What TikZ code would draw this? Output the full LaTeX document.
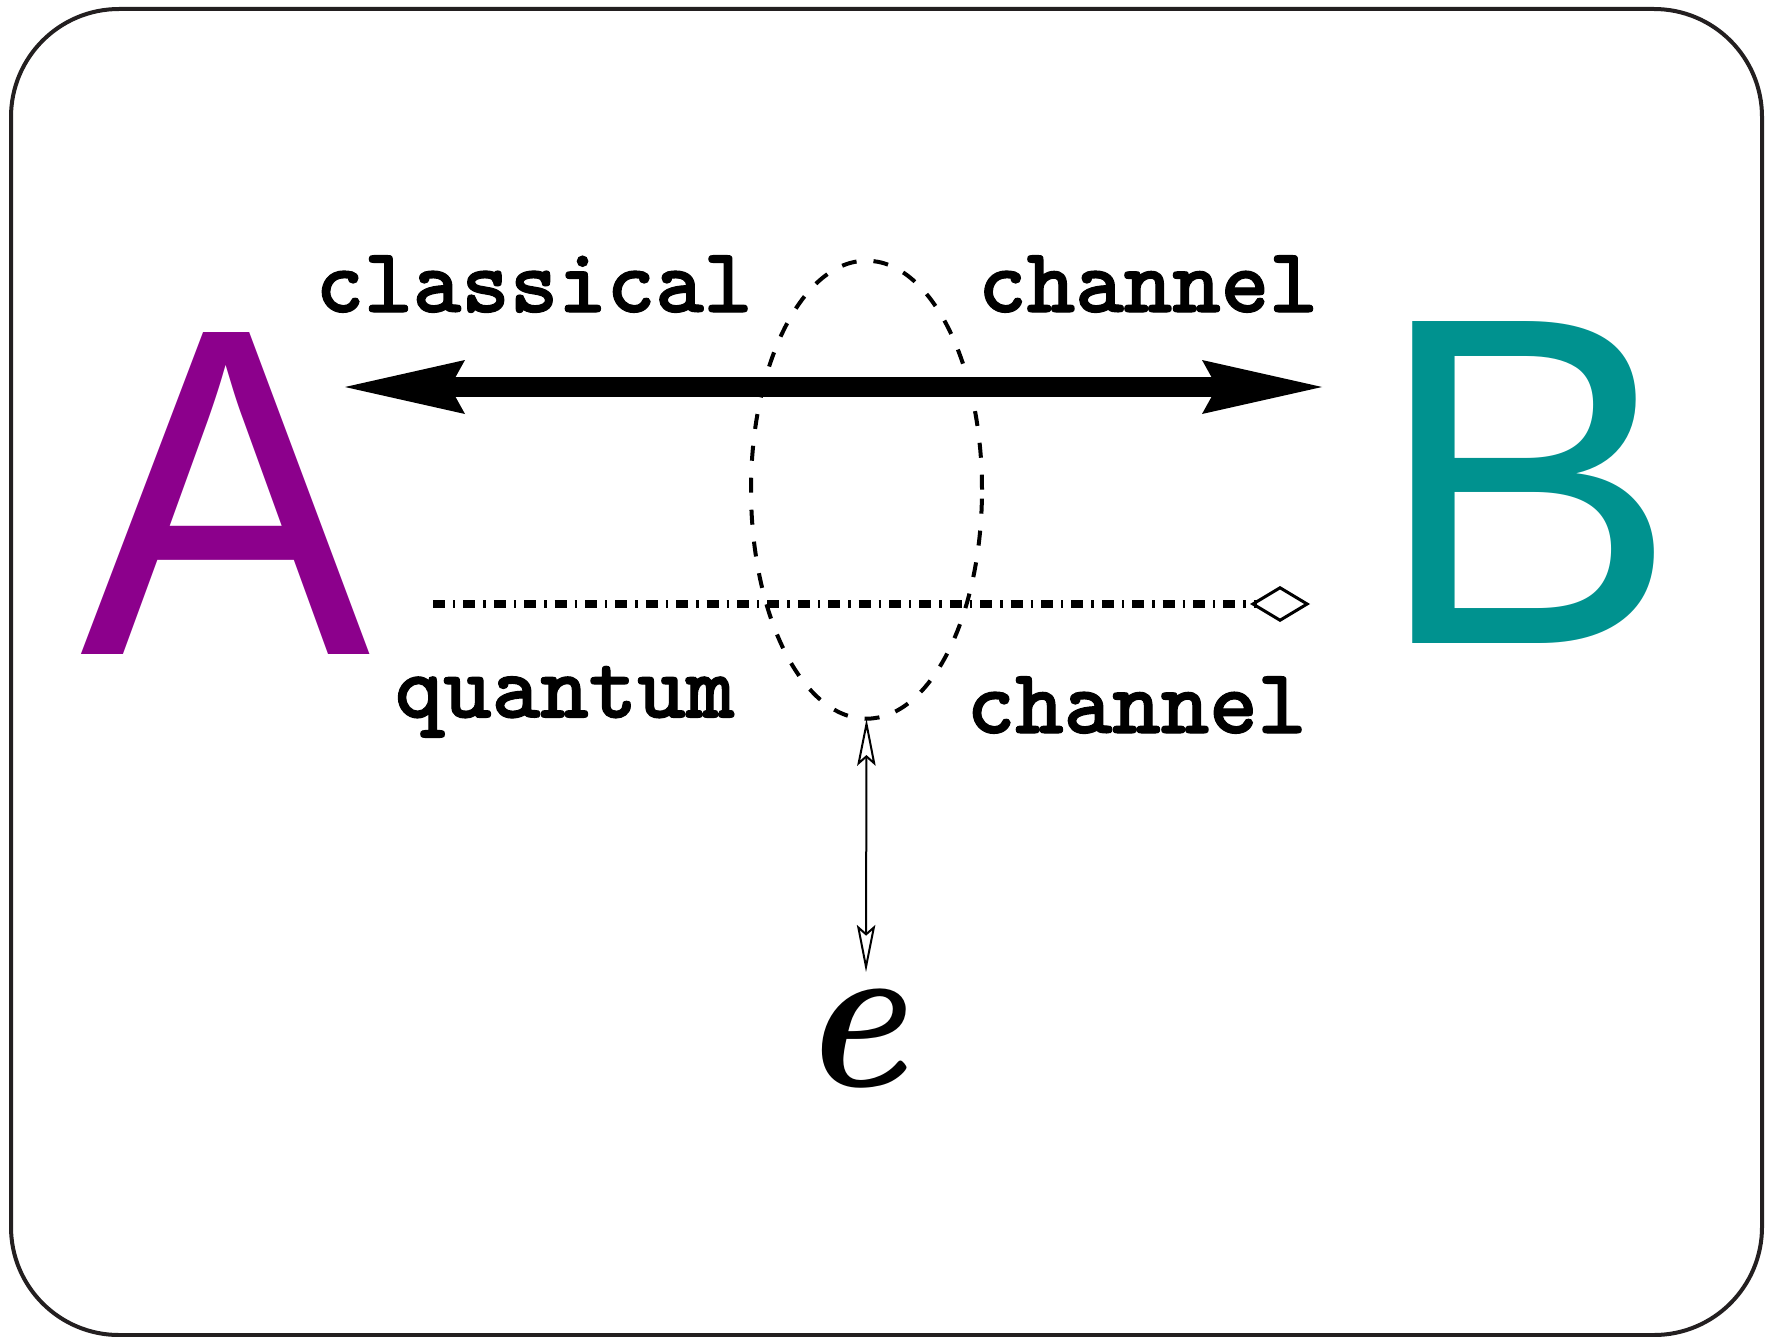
\documentclass[tikz,border=0pt]{standalone}
\usepackage{fontspec}
\usetikzlibrary{arrows.meta,shapes.geometric}
\newfontfamily\sansA{Liberation Sans}
\newfontfamily\courb{lmmonolt10-bold.otf}[FakeBold=1.2]
\definecolor{framecol}{HTML}{231F20}
\definecolor{apurple}{RGB}{140,0,140}
\definecolor{bteal}{RGB}{0,146,143}
\begin{document}
\begin{tikzpicture}[x=0.25pt,y=-0.25pt,
  bigletter/.style={inner sep=0pt,outer sep=0pt,anchor=base,font=\sansA\fontsize{117}{117}\selectfont},
  chanlabel/.style={inner sep=0pt,outer sep=0pt,anchor=base,font=\courb\fontsize{23.1}{23.1}\selectfont},
  classarrow/.style={line width=5pt,{Stealth[length=30pt,width=13.5pt,inset=3.75pt,line width=0pt]}-{Stealth[length=30pt,width=13.5pt,inset=3.75pt,line width=0pt]}},
  quantline/.style={line width=1.8pt,dash pattern=on 3pt off 2pt on 0.6pt off 2pt,-{Diamond[open,length=15pt,width=9pt,line width=0.75pt]}},
  eavesarrow/.style={line width=0.5pt,{Stealth[open,length=11.75pt,width=4.6pt,inset=2pt]}-{Stealth[open,length=11.75pt,width=4.6pt,inset=2pt]}},
  eveset/.style={draw,line width=1pt,dash pattern=on 3.75pt off 4.25pt,ellipse,minimum width=57.75pt,minimum height=114.5pt,inner sep=0pt,outer sep=0pt}
]
\useasboundingbox (0,0) rectangle (1766,1337);
% frame
\draw[framecol,line width=1pt,rounded corners=27pt] (11,9) rectangle (1762,1335);
% letters
\node[bigletter,text=apurple] (A) at (225.5,654) {\scalebox{0.93}[1]{A}};
\node[bigletter,text=bteal] (B) at (1527,643) {\scalebox{0.97}[1]{B}};
% labels
\node[chanlabel] (lcl) at (534,312) {classical};
\node[chanlabel] (lch1) at (1148,312) {channel};
\node[chanlabel] (lqu) at (564.5,717.5) {quantum};
\node[chanlabel] (lch2) at (1136.5,733) {channel};
% classical channel
\coordinate (cA) at (345,387);
\coordinate (cB) at (1322,387);
\draw[classarrow] (cA) -- (cB);
% quantum channel
\coordinate (qA) at (433,604);
\coordinate (qB) at (1310,604);
\draw[quantline] (qA) -- (qB);
% eavesdropper region
\node[eveset] (ell) at (866.5,489.7) {};
% eve
\node[inner sep=0pt,anchor=base,font=\rmfamily\bfseries\itshape\fontsize{54}{54}\selectfont] (e) at (853,1086) {\scalebox{0.92}[1]{e}};
\coordinate (eB) at (866,972);
\draw[eavesarrow] (ell.south) -- (eB);
\end{tikzpicture}
\end{document}
